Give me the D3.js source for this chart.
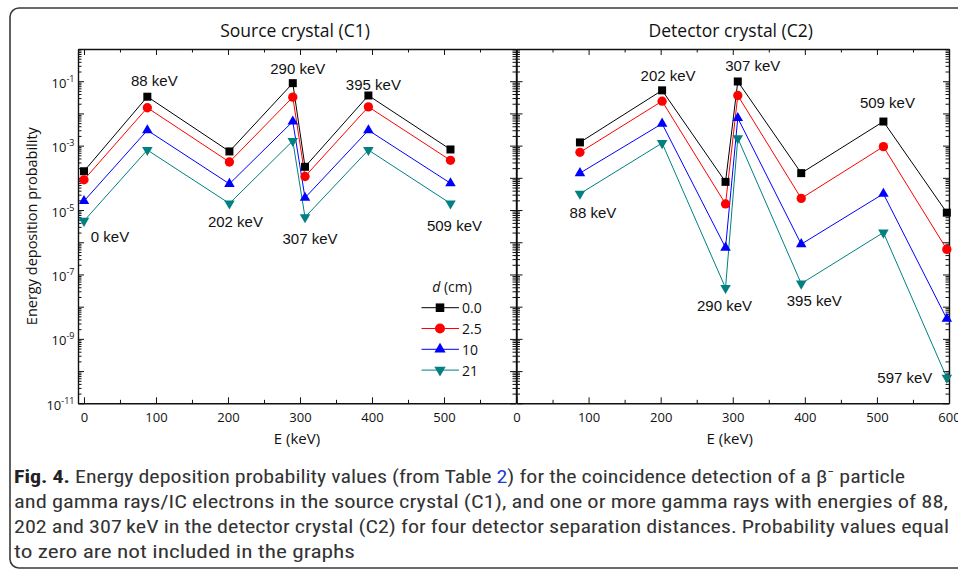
<!DOCTYPE html>
<html>
<head>
<meta charset="utf-8">
<script src="https://cdn.jsdelivr.net/npm/d3@7"></script>
<style>
  body { margin: 0; background: #fff; }
  text { font-family: "Open Sans", "Noto Sans", sans-serif; fill: #111; }
</style>
</head>
<body>
<script>
// energies (keV) where each panel has values
const energiesC1 = [0, 88, 202, 290, 307, 395, 509];
const energiesC2 = [88, 202, 290, 307, 395, 509, 597];
const distances = ["0.0", "2.5", "10", "21"];

// source crystal (C1), one array per distance d
const c1_d00 = [1.6e-4, 3.3e-2, 6.6e-4, 8.7e-2, 2.2e-4, 3.6e-2, 7.6e-4];
const c1_d25 = [8.7e-5, 1.5e-2, 3.1e-4, 3.2e-2, 1.1e-4, 1.6e-2, 3.5e-4];
const c1_d10 = [1.9e-5, 3.0e-3, 6.5e-5, 5.6e-3, 2.4e-5, 3.0e-3, 6.8e-5];
const c1_d21 = [4.6e-6, 7.3e-4, 1.6e-5, 1.4e-3, 6.0e-6, 7.3e-4, 1.6e-5];

// detector crystal (C2)
const c2_d00 = [1.26e-3, 5.2e-2, 7.5e-5, 9.8e-2, 1.4e-4, 5.6e-3, 8.3e-6];
const c2_d25 = [6.2e-4, 2.4e-2, 1.55e-5, 3.6e-2, 2.3e-5, 9.3e-4, 6.0e-7];
const c2_d10 = [1.4e-4, 4.8e-3, 6.8e-7, 7.2e-3, 8.7e-7, 3.2e-5, 4.2e-9];
const c2_d21 = [3.2e-5, 1.2e-3, 3.8e-8, 1.7e-3, 5.2e-8, 2.0e-6, 6.2e-11];

const xTicks = [0, 100, 200, 300, 400, 500, 600];
const xTicksMinor = [50, 150, 250, 350, 450, 550];
const yLabelExps = [-11, -9, -7, -5, -3, -1];

const colors = ["#000000", "#ff0000", "#0000ff", "#008080"];
const symbols = [d3.symbolSquare, d3.symbolCircle, d3.symbolTriangle, d3.symbolTriangle];
const symSizes = [64, 68, 48, 48];

const svg = d3.select("body").append("svg")
    .attr("width", 958)
    .attr("height", 572);

// figure box
svg.append("rect")
    .attr("x", 10).attr("y", 8)
    .attr("width", 970).attr("height", 560)
    .attr("rx", 9)
    .attr("fill", "none")
    .attr("stroke", "#3a3a3a")
    .attr("stroke-width", 1.6);

const y = d3.scaleLog().domain([1e-11, 1]).range([403.3, 49]);
const yMajor = d3.range(-11, 1).map(k => Math.pow(10, k));
const yMinor = d3.range(-11, 0).flatMap(k => d3.range(2, 10).map(m => m * Math.pow(10, k)));

// label placement: [which series to hang from, dx, dy]
const layoutC1 = {0: [3, 26, 16], 88: [0, 7, -16], 202: [3, 6, 18], 290: [0, 5, -15],
    307: [3, 5, 21], 395: [0, 5, -11], 509: [3, 4, 22]};
const layoutC2 = {88: [3, 13, 19], 202: [0, 6, -15], 290: [3, -1, 18], 307: [0, 15, -16],
    395: [3, 13, 17], 509: [0, 4, -19], 597: [3, -42, 0]};

const panels = [
    {
        title: "Source crystal (C1)",
        energies: energiesC1,
        series: [c1_d00, c1_d25, c1_d10, c1_d21],
        x: d3.scaleLinear().domain([-8.3, 600]).range([78, 516]),
        xLabels: [0, 100, 200, 300, 400, 500],
        yLabels: true,
        layout: layoutC1
    },
    {
        title: "Detector crystal (C2)",
        energies: energiesC2,
        series: [c2_d00, c2_d25, c2_d10, c2_d21],
        x: d3.scaleLinear().domain([0, 600]).range([516.5, 949]),
        xLabels: xTicks,
        yLabels: false,
        layout: layoutC2
    }
];

function styleAxis(sel, keepDomain) {
    sel.selectAll(".tick line").attr("stroke", "#111").attr("stroke-width", 1);
    sel.selectAll(".tick text").attr("font-size", 13).attr("fill", "#111")
        .style("font-family", '"Open Sans", sans-serif');
    if (keepDomain) sel.select(".domain").attr("stroke", "#111").attr("stroke-width", 1.4);
    else sel.select(".domain").remove();
}

panels.forEach(p => {
    const [x0, x1] = p.x.range();
    const [yb, yt] = y.range();
    const g = svg.append("g");

    // x axes
    g.append("g").attr("transform", `translate(0,${yb})`)
        .call(d3.axisBottom(p.x).tickValues(xTicks).tickSize(-6).tickSizeOuter(0).tickPadding(9)
            .tickFormat(d => p.xLabels.includes(d) ? d : ""))
        .call(s => styleAxis(s, true));
    g.append("g").attr("transform", `translate(0,${yb})`)
        .call(d3.axisBottom(p.x).tickValues(xTicksMinor).tickSize(-3.5).tickFormat(""))
        .call(s => styleAxis(s, false));
    g.append("g").attr("transform", `translate(0,${yt})`)
        .call(d3.axisTop(p.x).tickValues(xTicks).tickSize(-6).tickSizeOuter(0).tickFormat(""))
        .call(s => styleAxis(s, true));
    g.append("g").attr("transform", `translate(0,${yt})`)
        .call(d3.axisTop(p.x).tickValues(xTicksMinor).tickSize(-3.5).tickFormat(""))
        .call(s => styleAxis(s, false));

    // y axes
    [[d3.axisLeft, x0], [d3.axisRight, x1]].forEach(([ax, xp]) => {
        g.append("g").attr("transform", `translate(${xp},0)`)
            .call(ax(y).tickValues(yMajor).tickSize(-6).tickSizeOuter(0).tickFormat(""))
            .call(s => styleAxis(s, true));
        g.append("g").attr("transform", `translate(${xp},0)`)
            .call(ax(y).tickValues(yMinor).tickSize(-3.5).tickFormat(""))
            .call(s => styleAxis(s, false));
    });

    if (p.yLabels) {
        const lab = g.selectAll(".ylab").data(yLabelExps).join("text")
            .attr("class", "ylab")
            .attr("x", x0 - 3.5)
            .attr("y", k => y(Math.pow(10, k)) + 6.5)
            .attr("text-anchor", "end")
            .attr("font-size", 13);
        lab.append("tspan").text("10");
        lab.append("tspan").attr("dy", -6).attr("font-size", 9).text(k => "-" + (-k));

        g.append("text")
            .attr("transform", `translate(37,${(yb + yt) / 2}) rotate(-90)`)
            .attr("text-anchor", "middle")
            .attr("font-size", 14.5)
            .text("Energy deposition probability");
    }

    g.append("text")
        .attr("x", (x0 + x1) / 2 - 2).attr("y", 37)
        .attr("text-anchor", "middle")
        .attr("font-size", 17.5)
        .text(p.title);

    g.append("text")
        .attr("x", p.x(300) - 3).attr("y", 444)
        .attr("text-anchor", "middle")
        .attr("font-size", 15)
        .text("E (keV)");

    // series
    const line = d3.line()
        .x((d, i) => p.x(p.energies[i]))
        .y(d => y(d));

    p.series.forEach((vals, si) => {
        g.append("path")
            .datum(vals)
            .attr("d", line)
            .attr("fill", "none")
            .attr("stroke", colors[si])
            .attr("stroke-width", 1);
    });
    p.series.forEach((vals, si) => {
        g.selectAll(null).data(vals).join("path")
            .attr("d", d3.symbol(symbols[si], symSizes[si]))
            .attr("transform", (d, i) => `translate(${p.x(p.energies[i])},${y(d)})` + (si === 3 ? " rotate(180)" : ""))
            .attr("fill", colors[si]);
    });

    // energy labels
    g.selectAll(".elab").data(p.energies).join("text")
        .attr("class", "elab")
        .attr("x", (e, i) => p.x(e) + p.layout[e][1])
        .attr("y", (e, i) => y(p.series[p.layout[e][0]][i]) + p.layout[e][2])
        .attr("text-anchor", "middle")
        .attr("dominant-baseline", "central")
        .attr("font-size", 15)
        .style("font-family", '"Liberation Sans", Arial, sans-serif')
        .text(e => e + " keV");

    // legend in the C1 panel
    if (p.yLabels) {
        const lg = g.append("g").attr("transform", "translate(440,286)");
        const lt = lg.append("text").attr("text-anchor", "middle")
            .attr("x", 12).attr("dominant-baseline", "central").attr("font-size", 14);
        lt.append("tspan").attr("font-style", "italic").text("d");
        lt.append("tspan").text(" (cm)");
        distances.forEach((dname, si) => {
            const ry = 21.7 + si * 20.8;
            lg.append("line").attr("x1", -18.5).attr("x2", 19).attr("y1", ry).attr("y2", ry)
                .attr("stroke", colors[si]).attr("stroke-width", 1);
            lg.append("path").attr("d", d3.symbol(symbols[si], symSizes[si] * 1.15))
                .attr("transform", `translate(0,${ry})` + (si === 3 ? " rotate(180)" : ""))
                .attr("fill", colors[si]);
            lg.append("text").attr("x", 22).attr("y", ry)
                .attr("dominant-baseline", "central").attr("font-size", 14)
                .text(dname);
        });
    }
});

// caption
const capFont = '"Liberation Sans Narrow", "Roboto Condensed", "Open Sans", sans-serif';
const capLines = [
    {y: 483, w: 891, parts: [["Fig. 4.", "bold"], [" Energy deposition probability values (from Table "], ["2", "link"],
        [") for the coincidence detection of a β"], ["\u2212", "sup"], [" particle", "unsup"]]},
    {y: 508, w: 934, parts: [["and gamma rays/IC electrons in the source crystal (C1), and one or more gamma rays with energies of 88,"]]},
    {y: 533, w: 935, parts: [["202 and 307\u2009keV in the detector crystal (C2) for four detector separation distances. Probability values equal"]]},
    {y: 558, w: 341, parts: [["to zero are not included in the graphs"]]}
];
capLines.forEach(cl => {
    const t = svg.append("text")
        .attr("x", 14).attr("y", cl.y)
        .attr("font-size", 19)
        .attr("font-weight", 400)
        .attr("textLength", cl.w)
        .attr("lengthAdjust", "spacingAndGlyphs")
        .style("font-family", capFont)
        .style("fill", "#333");
    cl.parts.forEach(([txt, kind]) => {
        const s = t.append("tspan").text(txt);
        if (kind === "bold") s.attr("font-weight", "bold").style("fill", "#222");
        if (kind === "link") s.style("fill", "#1f3fd6");
        if (kind === "sup") s.attr("dy", -7).attr("font-size", 12);
        if (kind === "unsup") s.attr("dy", 7);
    });
});
</script>
</body>
</html>
